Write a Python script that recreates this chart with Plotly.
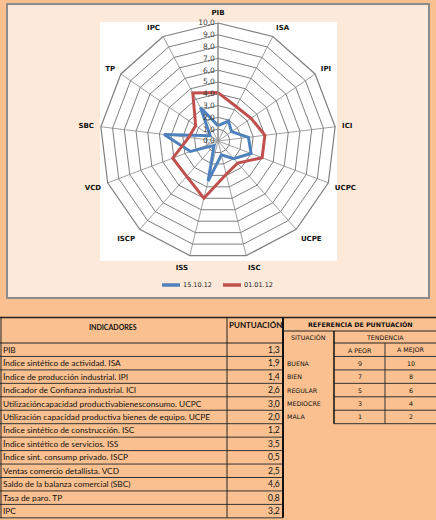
import plotly.graph_objects as go

# ---------------- data ----------------
categories = ["PIB", "ISA", "IPI", "ICI", "UCPC", "UCPE", "ISC", "ISS",
              "ISCP", "VCD", "SBC", "TP", "IPC"]
serie_15_10_12 = [1.3, 1.9, 1.4, 2.6, 3.0, 2.0, 1.2, 3.5, 0.5, 2.5, 4.6, 0.8, 3.2]
serie_01_01_12 = [4.1, 3.3, 3.4, 4.0, 4.0, 2.5, 2.9, 5.0, 4.0, 4.1, 2.5, 2.3, 4.6]
series_names = ["15.10.12", "01.01.12"]
series_colors = ["#4F81BD", "#C0504D"]

indicadores = [
    "PIB",
    "Índice sintético de actividad. ISA",
    "Índice de producción industrial. IPI",
    "Indicador de Confianza industrial. ICI",
    "Utilizacióncapacidad productivabienesconsumo. UCPC",
    "Utilización capacidad productiva bienes de equipo. UCPE",
    "Índice sintético de construcción. ISC",
    "Índice sintético de servicios. ISS",
    "Índice sint. consump privado. ISCP",
    "Ventas comercio detallista. VCD",
    "Saldo de la balanza comercial (SBC)",
    "Tasa de paro. TP",
    "IPC",
]
puntuacion = serie_15_10_12
situaciones = ["BUENA", "BIEN", "REGULAR", "MEDIOCRE", "MALA"]
a_peor = [9, 7, 5, 3, 1]
a_mejor = [10, 8, 6, 4, 2]

# ---------------- helpers (pixel -> paper) ----------------
W, H = 436, 520


def px(x):
    return x / W


def py(y):
    return 1 - y / H


shapes = []
annotations = []


def rect(x0, y0, x1, y1, fill, line_color=None, lw=0, layer="below"):
    shapes.append(dict(type="rect", xref="paper", yref="paper",
                       x0=px(x0), x1=px(x1), y0=py(y1), y1=py(y0),
                       fillcolor=fill, layer=layer,
                       line=dict(color=line_color or fill, width=lw)))


def hline(x0, x1, y, color="#222", lw=1, layer="above"):
    shapes.append(dict(type="line", xref="paper", yref="paper",
                       x0=px(x0), x1=px(x1), y0=py(y), y1=py(y),
                       line=dict(color=color, width=lw), layer=layer))


def vline(x, y0, y1, color="#222", lw=1):
    shapes.append(dict(type="line", xref="paper", yref="paper",
                       x0=px(x), x1=px(x), y0=py(y0), y1=py(y1),
                       line=dict(color=color, width=lw), layer="above"))


def text(x, y, s, size=8, anchor="left", family="Lato", color="#111"):
    annotations.append(dict(xref="paper", yref="paper", x=px(x), y=py(y),
                            text=s, showarrow=False, xanchor=anchor,
                            yanchor="middle",
                            font=dict(size=size, family=family, color=color)))


# ---------------- chart background ----------------
rect(7, 4, 429, 298, "#FDE9D9", "#8C8C8C", 2)
rect(100, 22, 337, 261, "#FFFFFF")

# ---------------- radar ----------------
fig = go.Figure()
for name, vals, col in zip(series_names, [serie_15_10_12, serie_01_01_12], series_colors):
    fig.add_trace(go.Scatterpolar(
        r=vals + vals[:1], theta=categories + categories[:1],
        mode="lines", name=name, showlegend=False,
        line=dict(color=col, width=3)))

# manual legend
leg_x = [162, 223]
for lx, name, col in zip(leg_x, series_names, series_colors):
    hline(lx, lx + 18, 285, col, 3.5)
    text(lx + 19, 285, name, 6.5, "left", "DejaVu Sans", "#222")

# ---------------- table ----------------
row0 = 343.0
rh = 13.45
n = len(indicadores)
bottom = row0 + rh * n

# header texts
text(113, 327, "<b>INDICADORES</b>", 7, "center", "Lato")
text(255, 325, "<b>PUNTUACIÓN</b>", 8, "center", "Lato")
text(360, 324.5, "<b>REFERENCIA DE PUNTUACIÓN</b>", 6.3, "center", "DejaVu Sans")
text(308.5, 337.5, "SITUACIÓN", 6.3, "center", "DejaVu Sans")
text(385, 337.5, "TENDENCIA", 6.3, "center", "DejaVu Sans")
text(359.5, 350, "A PEOR", 6.3, "center", "DejaVu Sans")
text(410.5, 350, "A MEJOR", 6.3, "center", "DejaVu Sans")

for i, (lab, v) in enumerate(zip(indicadores, puntuacion)):
    yc = row0 + rh * i + rh / 2
    text(1, yc, lab, 8.3, "left", "Lato")
    text(282, yc, f"{v:.1f}".replace(".", ","), 8.5, "right", "Lato")

for j, (s, a, b) in enumerate(zip(situaciones, a_peor, a_mejor)):
    yc = row0 + rh * (j + 1) + rh / 2
    text(285, yc, s, 6.3, "left", "DejaVu Sans")
    text(359.5, yc, str(a), 6.3, "center", "DejaVu Sans")
    text(410.5, yc, str(b), 6.3, "center", "DejaVu Sans")

# table lines
hline(0, 436, 317.5, "#222", 1.5)
hline(0, 283, row0, "#222", 1)
for i in range(1, n + 1):
    hline(0, 283, row0 + rh * i, "#333", 1)
vline(1, 318, bottom, "#222", 1)
vline(227, 318, bottom, "#222", 1)
vline(283, 318, bottom, "#111", 2)
hline(283, 436, 331, "#222", 1)
hline(334, 436, row0, "#222", 1)
for j in range(1, 7):
    hline(334, 436, row0 + rh * j, "#333", 1)
vline(334, 331, row0 + rh * 6, "#111", 1.5)
vline(385, row0, row0 + rh * 6, "#333", 1)

fig.update_layout(
    width=W, height=H,
    margin=dict(l=0, r=0, t=0, b=0),
    paper_bgcolor="#FAC090",
    plot_bgcolor="#FAC090",
    separators=", ",
    showlegend=False,
    polar=dict(
        domain=dict(x=[px(100), px(336)], y=[py(259), py(23)]),
        bgcolor="white",
        gridshape="linear",
        radialaxis=dict(range=[0, 10], dtick=1, tick0=0, tickformat=".1f",
                        angle=90, side="counterclockwise", tickangle=90,
                        showline=True, linecolor="#808080", linewidth=1,
                        gridcolor="#7F7F7F", gridwidth=1.2, ticks="",
                        tickfont=dict(size=7.5, family="DejaVu Sans", color="#404040")),
        angularaxis=dict(direction="clockwise", rotation=90,
                         categoryorder="array", categoryarray=categories,
                         tickmode="array", tickvals=categories,
                         ticktext=[f"<b>{c}</b>" for c in categories],
                         linecolor="#7F7F7F", linewidth=1.2,
                         gridcolor="#A0A0A0", gridwidth=1,
                         ticks="outside", ticklen=5, tickcolor="rgba(0,0,0,0)",
                         tickfont=dict(size=7, family="DejaVu Sans", color="#111")),
    ),
    shapes=shapes,
    annotations=annotations,
)

fig.write_html("out.html")
